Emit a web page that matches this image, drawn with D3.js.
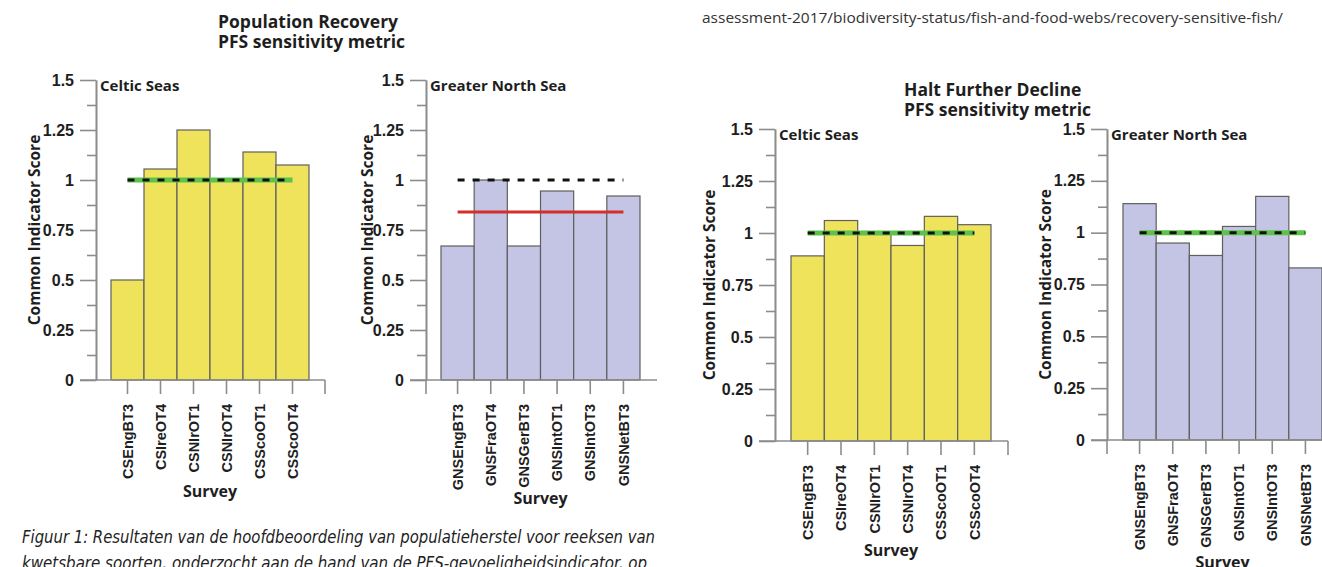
<!DOCTYPE html>
<html>
<head>
<meta charset="utf-8">
<script src="https://cdn.jsdelivr.net/npm/d3@7"></script>
<style>
    html, body { margin: 0; padding: 0; background: #fff; }
    svg { display: block; font-family: "Open Sans", "Noto Sans", sans-serif; }
    .axis .domain, .axis .tick line, .axis-line { stroke: #8c8c8c; stroke-width: 1.6; }
    .axis text { font-size: 16px; font-weight: 700; fill: #1e1e1e; }
    .axis.x-axis text { font-size: 14.5px; }
    .label { font-weight: 700; fill: #1e1e1e; }
</style>
</head>
<body>
<svg id="chart" width="1322" height="567"></svg>
<script>
// Survey categories
const celticSurveys = ["CSEngBT3", "CSIreOT4", "CSNIrOT1", "CSNIrOT4", "CSScoOT1", "CSScoOT4"];
const gnsSurveys = ["GNSEngBT3", "GNSFraOT4", "GNSGerBT3", "GNSIntOT1", "GNSIntOT3", "GNSNetBT3"];

// Common indicator scores
const recoveryCeltic = [0.50, 1.055, 1.25, 1.00, 1.14, 1.075];
const recoveryGns = [0.67, 1.00, 0.67, 0.945, 0.84, 0.92];
const declineCeltic = [0.89, 1.06, 1.00, 0.94, 1.08, 1.04];
const declineGns = [1.14, 0.95, 0.89, 1.03, 1.175, 0.83];

// Mean score per panel (solid line) and the target (dashed line)
const meanScores = [1.00, 0.84, 1.00, 1.00];
const targetScore = 1;

// Y axis ticks
const yTickValues = [0, 0.25, 0.5, 0.75, 1, 1.25, 1.5];
const yTickLabels = ["0", "0.25", "0.5", "0.75", "1", "1.25", "1.5"];
const yMinorValues = [0.125, 0.375, 0.625, 0.875, 1.125, 1.375];

// Layout of the four panels (left pair: population recovery, right pair: halt further decline)
var panels = [
    {title: "Celtic Seas", surveys: celticSurveys, values: recoveryCeltic, mean: meanScores[0],
     fill: "#f0e35c", axisX: 96, barLeft: 111, barRight: 309, yTop: 80, yBottom: 380,
     axisEnd: 325, endTick: true, yLabelX: 34, surveyY: 497},
    {title: "Greater North Sea", surveys: gnsSurveys, values: recoveryGns, mean: meanScores[1],
     fill: "#c4c4e4", axisX: 426, barLeft: 441, barRight: 640, yTop: 80, yBottom: 380,
     axisEnd: 657, endTick: false, yLabelX: 367, surveyY: 504},
    {title: "Celtic Seas", surveys: celticSurveys, values: declineCeltic, mean: meanScores[2],
     fill: "#f0e35c", axisX: 775, barLeft: 791, barRight: 991, yTop: 129, yBottom: 441,
     axisEnd: 1008, endTick: true, yLabelX: 709, surveyY: 556},
    {title: "Greater North Sea", surveys: gnsSurveys, values: declineGns, mean: meanScores[3],
     fill: "#c4c4e4", axisX: 1107, barLeft: 1123, barRight: 1322, yTop: 129, yBottom: 440,
     axisEnd: 1330, endTick: false, yLabelX: 1045, surveyY: 568}
];

var svg = d3.select("#chart");

function drawPanel(p) {
    var rows = p.surveys.map((s, i) => ({survey: s, score: p.values[i]}));

    var x = d3.scaleBand()
        .domain(p.surveys)
        .range([p.barLeft, p.barRight])
        .padding(0);

    var y = d3.scaleLinear()
        .domain([0, 1.5])
        .range([p.yBottom, p.yTop]);

    var g = svg.append("g");

    // bars
    g.selectAll(".bar")
        .data(rows)
        .enter()
        .append("rect")
            .attr("class", "bar")
            .attr("x", d => x(d.survey))
            .attr("y", d => y(d.score))
            .attr("width", x.bandwidth())
            .attr("height", d => y(0) - y(d.score))
            .attr("fill", p.fill)
            .attr("stroke", "#5f5f5f")
            .attr("stroke-width", 1.2);

    // minor + major ticks on the y axis
    g.append("g")
        .attr("class", "axis")
        .attr("transform", "translate(" + p.axisX + ",0)")
        .call(d3.axisLeft(y).tickValues(yMinorValues).tickSize(9).tickSizeOuter(0).tickFormat(""));

    g.append("g")
        .attr("class", "axis")
        .attr("transform", "translate(" + p.axisX + ",0)")
        .call(
            d3.axisLeft(y)
                .tickValues(yTickValues)
                .tickSize(16)
                .tickSizeOuter(0)
                .tickPadding(6)
                .tickFormat((d, i) => yTickLabels[i])
        );

    // x axis, labels turned upright
    var xAxis = g.append("g")
        .attr("class", "axis x-axis")
        .attr("transform", "translate(0," + y(0) + ")")
        .call(d3.axisBottom(x).tickSize(14).tickSizeOuter(0));

    xAxis.select(".domain").remove();
    xAxis.selectAll("text")
        .attr("transform", "rotate(-90)")
        .attr("x", -24)
        .attr("y", 0)
        .attr("dy", "0.36em")
        .style("text-anchor", "end");

    xAxis.append("line")
        .attr("class", "axis-line")
        .attr("x1", p.axisX - 16)
        .attr("x2", p.axisEnd);

    // the celtic panels close the axis with a tick, the north sea ones drop the y axis below it
    xAxis.append("line")
        .attr("class", "axis-line")
        .attr("x1", p.endTick ? p.axisEnd : p.axisX)
        .attr("x2", p.endTick ? p.axisEnd : p.axisX)
        .attr("y2", 14);

    // mean line and dashed target line, between first and last bar centres
    var half = x.bandwidth() / 2;
    var lx1 = x(p.surveys[0]) + half, lx2 = x(p.surveys[p.surveys.length - 1]) + half;

    if (p.mean >= targetScore) {
        g.append("line")
            .attr("x1", lx1).attr("x2", lx2)
            .attr("y1", y(p.mean)).attr("y2", y(p.mean))
            .attr("stroke", "#5cc24a")
            .attr("stroke-width", 5);
    }

    g.append("line")
        .attr("x1", lx1).attr("x2", lx2)
        .attr("y1", y(targetScore)).attr("y2", y(targetScore))
        .attr("stroke", "#111")
        .attr("stroke-width", 3)
        .attr("stroke-dasharray", "7,8");

    if (p.mean < targetScore) {
        g.append("line")
            .attr("x1", lx1).attr("x2", lx2)
            .attr("y1", y(p.mean)).attr("y2", y(p.mean))
            .attr("stroke", "#d42f2b")
            .attr("stroke-width", 3);
    }

    // panel title
    g.append("text")
        .attr("class", "label")
        .attr("x", p.axisX + 4)
        .attr("y", p.yTop + 11)
        .style("font-size", "15px")
        .text(p.title);

    // text label for the y axis
    g.append("text")
        .attr("class", "label")
        .attr("transform", "rotate(-90)")
        .attr("x", -(p.yTop + p.yBottom) / 2)
        .attr("y", p.yLabelX)
        .attr("dy", "0.36em")
        .style("text-anchor", "middle")
        .style("font-size", "15.5px")
        .text("Common Indicator Score");

    // text label for the x axis
    g.append("text")
        .attr("class", "label")
        .attr("x", (p.barLeft + p.barRight) / 2)
        .attr("y", p.surveyY)
        .style("text-anchor", "middle")
        .style("font-size", "16px")
        .text("Survey");
}

panels.forEach(drawPanel);

// block titles, two lines in one text element
function blockTitle(x, y, lines) {
    svg.append("text")
        .attr("class", "label")
        .attr("x", x)
        .attr("y", y)
        .style("font-size", "17.5px")
        .selectAll("tspan")
        .data(lines)
        .enter()
        .append("tspan")
            .attr("x", x)
            .attr("dy", (d, i) => i == 0 ? 0 : 20)
            .text(d => d);
}
blockTitle(218, 28, ["Population Recovery", "PFS sensitivity metric"]);
blockTitle(904, 96, ["Halt Further Decline", "PFS sensitivity metric"]);

// source url, top right
svg.append("text")
    .attr("x", 702)
    .attr("y", 23)
    .attr("textLength", 581)
    .attr("lengthAdjust", "spacingAndGlyphs")
    .style("font-size", "14px")
    .style("fill", "#333")
    .text("assessment-2017/biodiversity-status/fish-and-food-webs/recovery-sensitive-fish/");

// figure caption, cut off by the bottom edge
var caption = [
    {t: "Figuur 1: Resultaten van de hoofdbeoordeling van populatieherstel voor reeksen van", w: 633},
    {t: "kwetsbare soorten, onderzocht aan de hand van de PFS-gevoeligheidsindicator, op", w: 625}
];
caption.forEach((c, i) => {
    svg.append("text")
        .attr("x", 22)
        .attr("y", 543 + i * 26)
        .attr("textLength", c.w)
        .attr("lengthAdjust", "spacingAndGlyphs")
        .style("font-family", "'Liberation Sans Narrow', 'DejaVu Sans Condensed', sans-serif")
        .style("font-style", "italic")
        .style("font-size", "18px")
        .style("fill", "#222")
        .text(c.t);
});
</script>
</body>
</html>
